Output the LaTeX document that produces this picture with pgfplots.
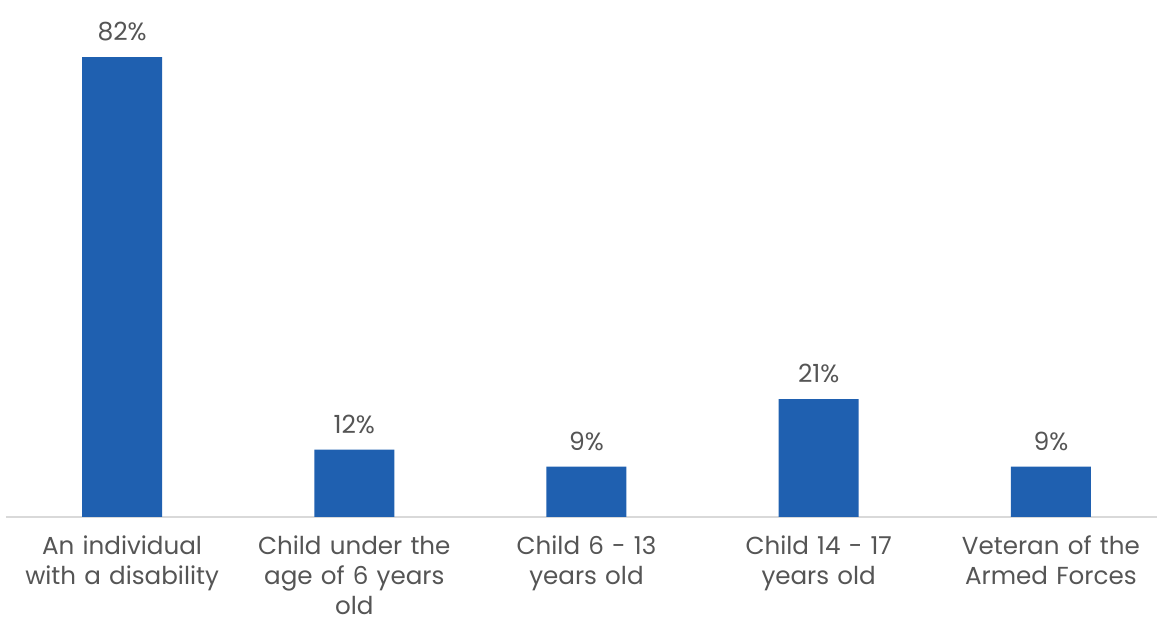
\documentclass[border=0pt]{standalone}
\usepackage{pgfplots}
\pgfplotsset{compat=1.18}
\usepackage{fontspec}
\setmainfont{Poppins}
\definecolor{barblue}{RGB}{31,96,176}
\definecolor{txtgray}{RGB}{85,85,85}
\definecolor{axgray}{RGB}{217,217,217}
\begin{document}
\begin{tikzpicture}
\useasboundingbox (-3pt,-54.5pt) rectangle (575.5pt,258.5pt);
\begin{axis}[
  at={(0pt,0pt)}, anchor=south west,
  scale only axis,
  width=575.5pt, height=258.5pt,
  xmin=-0.5, xmax=4.457,
  ymin=0, ymax=92.2,
  axis y line=none,
  axis x line*=bottom,
  x axis line style={draw=axgray, line width=1pt, -},
  xtick={0,1,2,3,4},
  major tick length=0pt,
  /pgf/number format/assume math mode=true,
  xticklabels={
    {An individual\\with a disability},
    {Child under the\\age of 6 years\\old},
    {Child 6 - 13\\years old},
    {Child 14 - 17\\years old},
    {Veteran of the\\Armed Forces}},
  xticklabel style={text width=115pt, align=center, font=\fontsize{12.3}{15}\selectfont, text=txtgray, yshift=-6pt},
  ybar, bar width=40pt,
  nodes near coords={\pgfmathprintnumber{\pgfplotspointmeta}\%},
  every node near coord/.append style={font=\fontsize{12.5}{14}\selectfont, text=txtgray, yshift=4.5pt},
]
\addplot[fill=barblue, draw=none] coordinates {(0,82) (1,12) (2,9) (3,21) (4,9)};
\end{axis}
\end{tikzpicture}
\end{document}
